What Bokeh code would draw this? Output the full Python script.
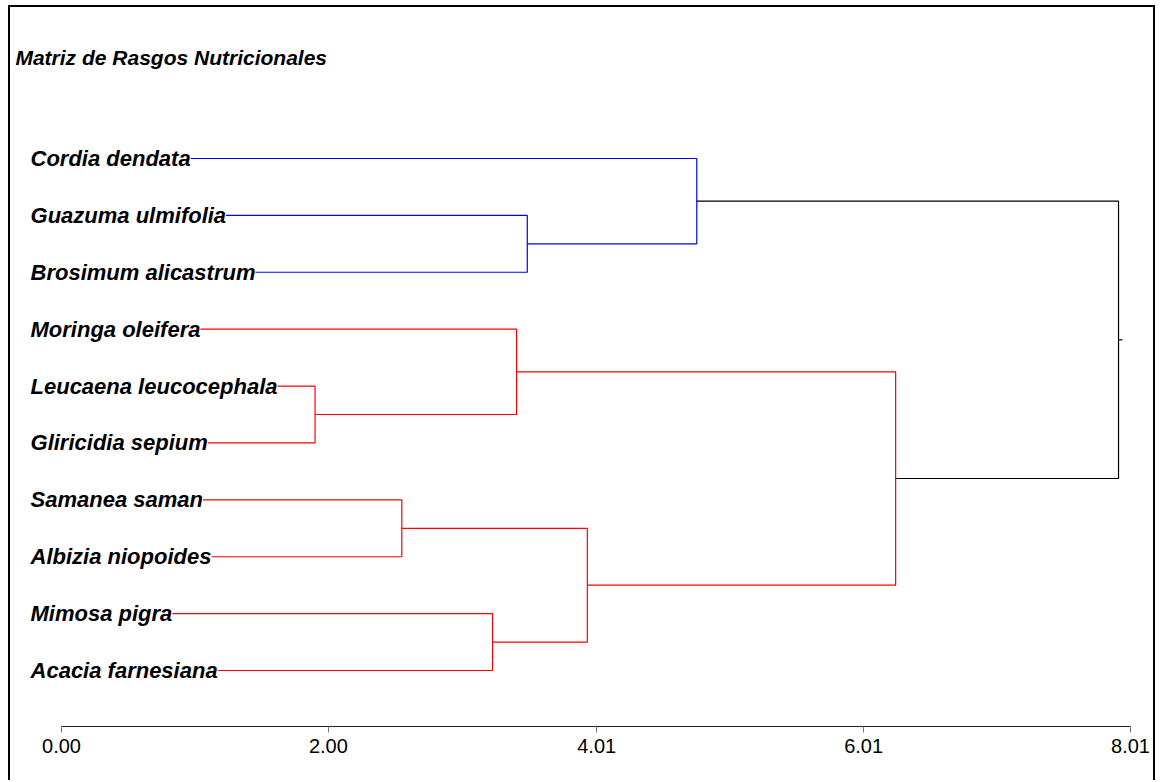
from bokeh.plotting import figure
from bokeh.models import Range1d, FixedTicker, Label, ColumnDataSource
from bokeh.core.properties import value
from bokeh.embed import file_html
from bokeh.resources import INLINE

# ---- data ----
title_text = "Matriz de Rasgos Nutricionales"
leaf_labels = ["Cordia dendata", "Guazuma ulmifolia", "Brosimum alicastrum",
               "Moringa oleifera", "Leucaena leucocephala", "Gliricidia sepium",
               "Samanea saman", "Albizia niopoides", "Mimosa pigra",
               "Acacia farnesiana"]
# merges: node ids 0..9 are leaves, merge k creates node 10+k
merge_left = [1, 0, 4, 3, 6, 8, 14, 13, 11]
merge_right = [2, 10, 5, 12, 7, 9, 15, 16, 17]
merge_height = [3.49, 4.76, 1.90, 3.41, 2.55, 3.23, 3.94, 6.25, 7.92]
merge_color = ["#0000FF", "#0000FF", "#FF0000", "#FF0000", "#FF0000",
               "#FF0000", "#FF0000", "#FF0000", "#000000"]
tick_values = [0.0, 2.0, 4.01, 6.01, 8.01]
tick_labels = ["0.00", "2.00", "4.01", "6.01", "8.01"]

FONT = "Liberation Sans"

# ---- dendrogram geometry from merge table ----
n = len(leaf_labels)
node_y = {i: float(i) for i in range(n)}
node_h = {i: 0.0 for i in range(n)}
xs, ys, cols = [], [], []
for k, (a, b, h, c) in enumerate(zip(merge_left, merge_right, merge_height, merge_color)):
    ya, yb = node_y[a], node_y[b]
    xs.append([node_h[a], h, h, node_h[b]])
    ys.append([ya, ya, yb, yb])
    cols.append(c)
    node_y[n + k] = (ya + yb) / 2.0
    node_h[n + k] = h
root = n + len(merge_height) - 1
# tiny stem at root
xs.append([node_h[root], node_h[root] + 0.03])
ys.append([node_y[root], node_y[root]])
cols.append("#000000")

p = figure(width=1147, height=775, output_backend="svg", toolbar_location=None,
           x_range=Range1d(-0.382, 8.212), y_range=Range1d(9.984, -2.654),
           y_axis_location=None, x_axis_location="below",
           min_border_left=0, min_border_right=0, min_border_top=0,
           min_border_bottom=56)
p.styles = {"border-top": "2px solid black", "border-left": "2px solid black",
            "border-right": "2px solid black", "border-bottom": "none",
            "margin": "5px 0px 0px 8px"}
p.outline_line_color = None
p.grid.visible = False
p.background_fill_color = "white"
p.border_fill_color = "white"

p.multi_line(xs=xs, ys=ys, line_color=cols, line_width=1.2)

src = ColumnDataSource(dict(x=[-0.232] * n, y=[float(i) for i in range(n)], t=leaf_labels))
p.text(x="x", y="y", text="t", source=src,
       text_font=value(FONT), text_font_style="bold italic",
       text_font_size="22px", text_baseline="alphabetic", text_align="left",
       text_color="black", background_fill_color="white")

p.add_layout(Label(x=-0.345, y=-1.775, text=title_text, text_font=FONT,
                   text_font_style="bold italic", text_font_size="21px",
                   text_baseline="middle", text_align="left", text_color="black"))

ax = p.xaxis[0]
ax.ticker = FixedTicker(ticks=tick_values)
ax.major_label_overrides = {v: s for v, s in zip(tick_values, tick_labels)}
ax.bounds = (0, 8.01)
ax.axis_line_color = "#222222"
ax.major_tick_line_color = "#777777"
ax.major_tick_out = 6
ax.major_tick_in = 0
ax.minor_tick_line_color = None
ax.major_label_text_font = FONT
ax.major_label_text_font_size = "20px"
ax.major_label_text_color = "black"
ax.major_label_standoff = 6

open("out.html", "w").write(file_html(p, INLINE))
